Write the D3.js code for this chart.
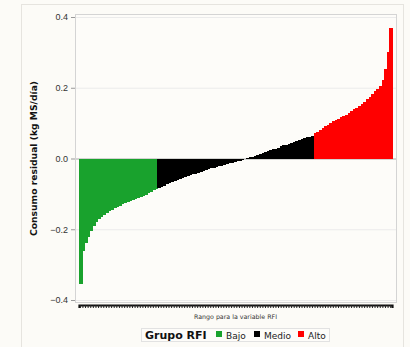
<!DOCTYPE html>
<html>
<head>
<meta charset="utf-8">
<script src="https://cdn.jsdelivr.net/npm/d3@7"></script>
<style>
  body { margin: 0; background: #fcfbf7; }
  svg { display: block; font-family: "DejaVu Sans", sans-serif; }
</style>
</head>
<body>
<svg id="chart" width="410" height="347"></svg>
<script>
// residual feed intake per animal, sorted ascending
var bajo = [-0.355, -0.262, -0.240, -0.221, -0.204, -0.190, -0.179, -0.171, -0.165, -0.159,
            -0.154, -0.149, -0.145, -0.141, -0.137, -0.134, -0.130, -0.127, -0.123, -0.120,
            -0.117, -0.114, -0.112, -0.109, -0.106, -0.102, -0.098, -0.094, -0.090, -0.086];
var medio = [-0.083, -0.080, -0.077, -0.073, -0.070, -0.067, -0.064, -0.061, -0.058, -0.055,
             -0.053, -0.050, -0.048, -0.045, -0.043, -0.040, -0.038, -0.035, -0.033, -0.031,
             -0.028, -0.026, -0.024, -0.022, -0.020, -0.018, -0.016, -0.014, -0.012, -0.010,
             -0.008, -0.006, -0.004, -0.002, 0.001, 0.003, 0.005, 0.008, 0.010, 0.013,
             0.015, 0.018, 0.020, 0.023, 0.026, 0.028, 0.031, 0.034, 0.037, 0.039,
             0.042, 0.044, 0.047, 0.049, 0.052, 0.054, 0.057, 0.060, 0.062, 0.065];
var alto = [0.071, 0.076, 0.081, 0.086, 0.091, 0.096, 0.100, 0.105, 0.109, 0.113,
            0.116, 0.120, 0.124, 0.129, 0.134, 0.139, 0.144, 0.149, 0.155, 0.161,
            0.168, 0.175, 0.182, 0.190, 0.196, 0.204, 0.222, 0.252, 0.300, 0.370];
var groups = ["Bajo", "Medio", "Alto"];
var groupColors = ["#19a22d", "#000000", "#ff0000"];
var yTicks = [-0.4, -0.2, 0.0, 0.2, 0.4];

var data = [];
[bajo, medio, alto].forEach(function (arr, g) {
    arr.forEach(function (v) {
        data.push({id: data.length, value: v, group: groups[g]});
    });
});

var svg = d3.select("#chart");
var margin = {top: 14, left: 75, right: 14, bottom: 45};
var width = +svg.attr("width") - margin.left - margin.right,
    height = +svg.attr("height") - margin.top - margin.bottom;

// outer frame
svg.append("rect")
    .attr("x", 21.5).attr("y", 4.5)
    .attr("width", 382).attr("height", 360)
    .attr("fill", "#fcfbf7").attr("stroke", "#e6e4df");

var g = svg.append("g")
    .attr("transform", "translate(" + margin.left + "," + margin.top + ")");

var x = d3.scaleBand().domain(data.map(function (d) { return d.id; }))
    .range([4, width - 4]).padding(0);
var y = d3.scaleLinear().domain([-0.4, 0.4]).range([286, 3]);
var color = d3.scaleOrdinal().domain(groups).range(groupColors);

g.append("rect")
    .attr("x", 0.5).attr("y", 0.5)
    .attr("width", width).attr("height", height)
    .attr("fill", "#fdfcf9").attr("stroke", "#d4d4d4");

// grid
g.selectAll(".grid").data(yTicks).enter().append("line")
    .attr("x1", 1).attr("x2", width)
    .attr("y1", function (d) { return y(d) + 0.5; })
    .attr("y2", function (d) { return y(d) + 0.5; })
    .attr("stroke", function (d) { return d === 0 ? "#aaaaaa" : "#ebebeb"; })
    .attr("stroke-width", function (d) { return d === 0 ? 1.2 : 1; });

g.selectAll(".bar")
    .data(data)
    .enter().append("rect")
    .attr("class", "bar")
    .attr("shape-rendering", "crispEdges")
    .attr("x", function (d) { return x(d.id); })
    .attr("width", x.bandwidth() + 1)
    .attr("y", function (d) { return y(Math.max(0, d.value)); })
    .attr("height", function (d) { return Math.abs(y(d.value) - y(0)); })
    .attr("fill", function (d) { return color(d.group); });

// y axis
var yAxis = g.append("g")
    .call(d3.axisLeft(y).tickValues(yTicks).tickSize(4).tickPadding(3)
        .tickFormat(d3.format(".1f")));
yAxis.select(".domain").remove();
yAxis.selectAll("line").attr("stroke", "#999");
yAxis.selectAll("text").attr("fill", "#333").attr("font-size", 9);

// x axis: one tick per animal, packed into a dark band
var xAxis = g.append("g")
    .attr("transform", "translate(0," + (height + 3) + ")")
    .call(d3.axisBottom(x).tickSize(3).tickFormat(""));
xAxis.select(".domain").attr("stroke", "#111").attr("stroke-width", 2.2);
xAxis.selectAll(".tick line").attr("stroke", "#222");

svg.append("text")
    .attr("x", margin.left + width / 2).attr("y", 319)
    .attr("text-anchor", "middle")
    .attr("font-size", 6.3).attr("fill", "#333")
    .text("Rango para la variable RFI");

svg.append("text")
    .attr("transform", "translate(37," + (margin.top + y(0)) + ") rotate(-90)")
    .attr("text-anchor", "middle")
    .attr("font-size", 9.2).attr("font-weight", "bold").attr("fill", "#111")
    .text("Consumo residual (kg MS/día)");

// legend
var leg = svg.append("g");
leg.append("rect")
    .attr("x", 141.5).attr("y", 328.5).attr("width", 188).attr("height", 13)
    .attr("fill", "#fdfcf9").attr("stroke", "#e2e2e2");
leg.append("text")
    .attr("x", 145).attr("y", 339)
    .attr("font-size", 11).attr("font-weight", "bold").attr("fill", "#111")
    .text("Grupo RFI");
var legX = [216, 254, 298];
groups.forEach(function (name, i) {
    leg.append("rect")
        .attr("x", legX[i]).attr("y", 331)
        .attr("width", 6).attr("height", 6)
        .attr("fill", color(name));
    leg.append("text")
        .attr("x", legX[i] + 10).attr("y", 338.5)
        .attr("font-size", 9).attr("fill", "#222")
        .text(name);
});
</script>
</body>
</html>
